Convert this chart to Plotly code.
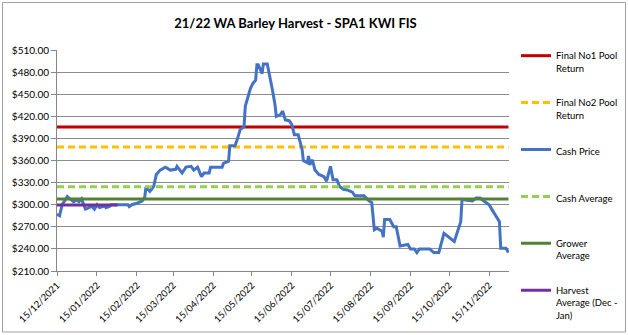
import plotly.graph_objects as go

# Daily cash price series (AUD/t)
dates = [
    "2021-12-15", "2021-12-17", "2021-12-19", "2021-12-23", "2021-12-25", "2021-12-28",
    "2021-12-30", "2022-01-01", "2022-01-03", "2022-01-06", "2022-01-08", "2022-01-11",
    "2022-01-13", "2022-01-15", "2022-01-17", "2022-01-21", "2022-01-22", "2022-01-25",
    "2022-01-26", "2022-02-08", "2022-02-09", "2022-02-11", "2022-02-15", "2022-02-19",
    "2022-02-21", "2022-02-22", "2022-02-25", "2022-02-28", "2022-03-02", "2022-03-05",
    "2022-03-09", "2022-03-13", "2022-03-17", "2022-03-18", "2022-03-22", "2022-03-25",
    "2022-03-29", "2022-03-31", "2022-04-03", "2022-04-06", "2022-04-08", "2022-04-12",
    "2022-04-13", "2022-04-22", "2022-04-23", "2022-04-27", "2022-04-28", "2022-05-02",
    "2022-05-04", "2022-05-06", "2022-05-09", "2022-05-10", "2022-05-13", "2022-05-14",
    "2022-05-16", "2022-05-18", "2022-05-19", "2022-05-20", "2022-05-23", "2022-05-24",
    "2022-05-27", "2022-05-28", "2022-05-31", "2022-06-02", "2022-06-03", "2022-06-06",
    "2022-06-08", "2022-06-10", "2022-06-13", "2022-06-15", "2022-06-17", "2022-06-20",
    "2022-06-23", "2022-06-24", "2022-06-27", "2022-06-28", "2022-06-29", "2022-07-01",
    "2022-07-03", "2022-07-06", "2022-07-10", "2022-07-12", "2022-07-15", "2022-07-17",
    "2022-07-20", "2022-07-22", "2022-07-25", "2022-07-28", "2022-08-01", "2022-08-03",
    "2022-08-10", "2022-08-14", "2022-08-16", "2022-08-18", "2022-08-20", "2022-08-24",
    "2022-08-25", "2022-08-26", "2022-08-30", "2022-09-02", "2022-09-04", "2022-09-07",
    "2022-09-11", "2022-09-13", "2022-09-15", "2022-09-18", "2022-09-20", "2022-09-22",
    "2022-09-30", "2022-10-03", "2022-10-07", "2022-10-11", "2022-10-19", "2022-10-24",
    "2022-10-25", "2022-11-02", "2022-11-05", "2022-11-08", "2022-11-11", "2022-11-15",
    "2022-11-17", "2022-11-21", "2022-11-23", "2022-11-24", "2022-11-28", "2022-11-30",
]
cash_price = [
    287, 285, 300, 311, 308, 304,
    307, 304, 308, 294, 295.5, 298,
    294, 300, 296, 298, 296, 298,
    300, 300, 297.5, 300, 302, 305,
    310, 324, 318, 325, 341, 347,
    351, 347, 348, 352, 343, 351,
    352, 347, 351, 338, 343, 343,
    351, 351, 356, 359, 380, 380,
    390, 402, 406, 434, 452, 458,
    465, 469, 490, 490, 478, 491,
    491, 483, 456, 436, 420, 422,
    427, 415, 414, 409, 395, 395,
    375, 360, 357, 366, 354, 361,
    347, 341, 338, 332, 352, 334,
    334, 325, 321, 320, 317, 312,
    312, 305, 303, 266, 268, 264,
    256, 280, 280, 270, 270, 244,
    246, 246, 240, 240, 235, 240,
    240, 235, 235, 261, 250, 277,
    307, 305, 309, 309, 305, 300,
    294, 282, 277, 241, 241, 235,
]

# Benchmark levels
season = ["2021-12-15", "2022-11-30"]
harvest_window = ["2021-12-15", "2022-01-31"]
final_no1_pool = 405.5
final_no2_pool = 378.3
cash_average = 324.5
grower_average = 307.6
harvest_average = 299.5

tick_dates = [
    "2021-12-15", "2022-01-15", "2022-02-15", "2022-03-15", "2022-04-15", "2022-05-15",
    "2022-06-15", "2022-07-15", "2022-08-15", "2022-09-15", "2022-10-15", "2022-11-15",
]
tick_labels = [
    "15/12/2021", "15/01/2022", "15/02/2022", "15/03/2022", "15/04/2022", "15/05/2022",
    "15/06/2022", "15/07/2022", "15/08/2022", "15/09/2022", "15/10/2022", "15/11/2022",
]

FONT = "Lato"
W, H = 628, 335
L, R, T, B = 57, 119, 50, 64
pw = W - L - R
ph = H - T - B

# Legend entries, each in its own legend box stacked down the right margin
legend_names = [
    "Final No1 Pool<br>Return",
    "Final No2 Pool<br>Return",
    "Cash Price",
    "Cash Average",
    "Grower<br>Average",
    "Harvest<br>Average (Dec -<br>Jan)",
]
legend_ids = ["legend", "legend2", "legend3", "legend4", "legend5", "legend6"]


def level(idx, span, value, color, dash="solid"):
    return go.Scatter(
        x=span, y=[value, value], mode="lines", name=legend_names[idx],
        legend=legend_ids[idx],
        line=dict(color=color, width=3, dash=dash), hoverinfo="skip",
    )


fig = go.Figure()
fig.add_trace(level(0, season, final_no1_pool, "#C00000"))
fig.add_trace(level(1, season, final_no2_pool, "#FFC000", "7px,4px"))
fig.add_trace(go.Scatter(
    x=dates, y=cash_price, mode="lines", name=legend_names[2], legend=legend_ids[2],
    line=dict(color="#4472C4", width=3),
))
fig.add_trace(level(3, season, cash_average, "#92D050", "7px,4px"))
fig.add_trace(level(4, season, grower_average, "#548235"))
fig.add_trace(level(5, harvest_window, harvest_average, "#7030A0"))

legend_layout = {}
for i, lid in enumerate(legend_ids):
    top_px = 43 + 46.9 * i
    legend_layout[lid] = dict(
        x=(516 - L) / pw, xanchor="left",
        y=(H - B - top_px) / ph, yanchor="top",
        valign="top",
        font=dict(family=FONT, size=9.5, color="#000000"),
        bgcolor="rgba(0,0,0,0)", borderwidth=0,
    )

fig.update_layout(
    width=W, height=H,
    margin=dict(l=L, r=R, t=T, b=B, autoexpand=False),
    paper_bgcolor="white", plot_bgcolor="white",
    font=dict(family=FONT, size=10, color="#000000"),
    title=dict(
        text="<b>21/22 WA Barley Harvest - SPA1 KWI FIS</b>",
        x=295.5 / W, xanchor="center", y=1 - 23 / H, yanchor="middle",
        font=dict(family=FONT, size=13, color="#000000"),
    ),
    showlegend=True,
    xaxis=dict(
        type="date",
        range=["2021-12-15", "2022-11-30 10:00"],
        tickmode="array", tickvals=tick_dates, ticktext=tick_labels,
        tickangle=-45, ticks="outside", ticklen=4, tickcolor="#868686",
        showgrid=False, showline=True, linecolor="#868686", linewidth=1,
        tickfont=dict(family=FONT, size=9.5), zeroline=False,
    ),
    yaxis=dict(
        range=[210, 510], dtick=30, tick0=210,
        tickprefix="$", tickformat=".2f",
        ticks="outside", ticklen=5, tickcolor="#868686",
        showgrid=True, gridcolor="#8c8c8c", gridwidth=1,
        showline=True, linecolor="#868686", linewidth=1,
        tickfont=dict(family=FONT, size=10), zeroline=False,
    ),
    shapes=[dict(
        type="rect", xref="paper", yref="paper", layer="below",
        x0=(2.5 - L) / pw, x1=(625.5 - L) / pw,
        y0=(H - B - 332) / ph, y1=(H - B - 2.5) / ph,
        line=dict(color="#a0a0a0", width=1), fillcolor="rgba(0,0,0,0)",
    )],
    **legend_layout,
)

fig.write_html("out.html")
